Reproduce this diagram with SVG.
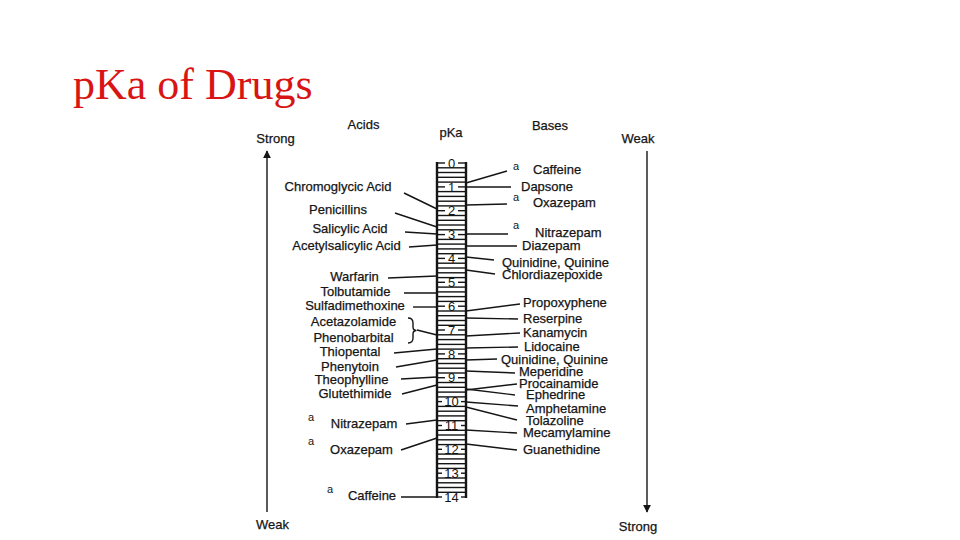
<svg xmlns="http://www.w3.org/2000/svg" width="960" height="540" viewBox="0 0 960 540">
<defs>
<style>
.t{font-family:"Liberation Sans",Arial,sans-serif;font-size:13px;fill:#151515;stroke:#151515;stroke-width:0.25}
.m{text-anchor:middle}
.sup{font-family:"Liberation Sans",Arial,sans-serif;font-size:11px;fill:#151515}
.num{font-family:"Liberation Sans",Arial,sans-serif;font-size:13px;fill:#151515;text-anchor:middle}
.c line,.c path{stroke:#151515;stroke-width:1.4;fill:none}
.col line{stroke:#151515;stroke-width:1.4}
.col .side{stroke-width:2.4}
.ax{stroke:#151515;stroke-width:1.4}
</style>
<marker id="ah" viewBox="0 0 10 10" refX="9" refY="5" markerWidth="8" markerHeight="8" markerUnits="userSpaceOnUse" orient="auto">
<path d="M0,0 L10,5 L0,10 z" fill="#151515"/>
</marker>
</defs>
<rect width="960" height="540" fill="#fff"/>
<text x="73" y="99" font-family="Liberation Serif, Times New Roman, serif" font-size="44" fill="#d81414">pKa of Drugs</text>

<g id="headers">
<text class="t m" x="363.5" y="129">Acids</text>
<text class="t m" x="451" y="137">pKa</text>
<text class="t m" x="550" y="130">Bases</text>
<text class="t m" x="275.5" y="143">Strong</text>
<text class="t m" x="272.5" y="529">Weak</text>
<text class="t m" x="638" y="143">Weak</text>
<text class="t m" x="638" y="531">Strong</text>
</g>

<g id="axes">
<line class="ax" x1="267" y1="512" x2="267" y2="151" marker-end="url(#ah)"/>
<line class="ax" x1="647" y1="151" x2="647" y2="512" marker-end="url(#ah)"/>
</g>

<g id="scale" class="col">
<line class="side" x1="437" y1="162" x2="437" y2="498"/>
<line class="side" x1="466" y1="162" x2="466" y2="498"/>
<g>
<line x1="437" x2="466" y1="167.8" y2="167.8"/><line x1="437" x2="466" y1="172.5" y2="172.5"/><line x1="437" x2="466" y1="177.3" y2="177.3"/><line x1="437" x2="466" y1="182.1" y2="182.1"/>
<line x1="437" x2="466" y1="191.6" y2="191.6"/><line x1="437" x2="466" y1="196.4" y2="196.4"/><line x1="437" x2="466" y1="201.2" y2="201.2"/><line x1="437" x2="466" y1="205.9" y2="205.9"/>
<line x1="437" x2="466" y1="215.5" y2="215.5"/><line x1="437" x2="466" y1="220.3" y2="220.3"/><line x1="437" x2="466" y1="225.0" y2="225.0"/><line x1="437" x2="466" y1="229.8" y2="229.8"/>
<line x1="437" x2="466" y1="239.4" y2="239.4"/><line x1="437" x2="466" y1="244.1" y2="244.1"/><line x1="437" x2="466" y1="248.9" y2="248.9"/><line x1="437" x2="466" y1="253.7" y2="253.7"/>
<line x1="437" x2="466" y1="263.2" y2="263.2"/><line x1="437" x2="466" y1="268.0" y2="268.0"/><line x1="437" x2="466" y1="272.8" y2="272.8"/><line x1="437" x2="466" y1="277.6" y2="277.6"/>
<line x1="437" x2="466" y1="287.1" y2="287.1"/><line x1="437" x2="466" y1="291.9" y2="291.9"/><line x1="437" x2="466" y1="296.6" y2="296.6"/><line x1="437" x2="466" y1="301.4" y2="301.4"/>
<line x1="437" x2="466" y1="311.0" y2="311.0"/><line x1="437" x2="466" y1="315.7" y2="315.7"/><line x1="437" x2="466" y1="320.5" y2="320.5"/><line x1="437" x2="466" y1="325.3" y2="325.3"/>
<line x1="437" x2="466" y1="334.8" y2="334.8"/><line x1="437" x2="466" y1="339.6" y2="339.6"/><line x1="437" x2="466" y1="344.4" y2="344.4"/><line x1="437" x2="466" y1="349.1" y2="349.1"/>
<line x1="437" x2="466" y1="358.7" y2="358.7"/><line x1="437" x2="466" y1="363.5" y2="363.5"/><line x1="437" x2="466" y1="368.2" y2="368.2"/><line x1="437" x2="466" y1="373.0" y2="373.0"/>
<line x1="437" x2="466" y1="382.5" y2="382.5"/><line x1="437" x2="466" y1="387.3" y2="387.3"/><line x1="437" x2="466" y1="392.1" y2="392.1"/><line x1="437" x2="466" y1="396.9" y2="396.9"/>
<line x1="437" x2="466" y1="406.4" y2="406.4"/><line x1="437" x2="466" y1="411.2" y2="411.2"/><line x1="437" x2="466" y1="415.9" y2="415.9"/><line x1="437" x2="466" y1="420.7" y2="420.7"/>
<line x1="437" x2="466" y1="430.3" y2="430.3"/><line x1="437" x2="466" y1="435.0" y2="435.0"/><line x1="437" x2="466" y1="439.8" y2="439.8"/><line x1="437" x2="466" y1="444.6" y2="444.6"/>
<line x1="437" x2="466" y1="454.1" y2="454.1"/><line x1="437" x2="466" y1="458.9" y2="458.9"/><line x1="437" x2="466" y1="463.7" y2="463.7"/><line x1="437" x2="466" y1="468.4" y2="468.4"/>
<line x1="437" x2="466" y1="478.0" y2="478.0"/><line x1="437" x2="466" y1="482.8" y2="482.8"/><line x1="437" x2="466" y1="487.5" y2="487.5"/><line x1="437" x2="466" y1="492.3" y2="492.3"/>
</g>
<g>
<line x1="436" x2="445" y1="163" y2="163"/><line x1="458" x2="467" y1="163" y2="163"/>
<line x1="437" x2="445" y1="186.9" y2="186.9"/><line x1="458" x2="466" y1="186.9" y2="186.9"/>
<line x1="437" x2="445" y1="210.7" y2="210.7"/><line x1="458" x2="466" y1="210.7" y2="210.7"/>
<line x1="437" x2="445" y1="234.6" y2="234.6"/><line x1="458" x2="466" y1="234.6" y2="234.6"/>
<line x1="437" x2="445" y1="258.4" y2="258.4"/><line x1="458" x2="466" y1="258.4" y2="258.4"/>
<line x1="437" x2="445" y1="282.3" y2="282.3"/><line x1="458" x2="466" y1="282.3" y2="282.3"/>
<line x1="437" x2="445" y1="306.2" y2="306.2"/><line x1="458" x2="466" y1="306.2" y2="306.2"/>
<line x1="437" x2="445" y1="330.0" y2="330.0"/><line x1="458" x2="466" y1="330.0" y2="330.0"/>
<line x1="437" x2="445" y1="353.9" y2="353.9"/><line x1="458" x2="466" y1="353.9" y2="353.9"/>
<line x1="437" x2="445" y1="377.7" y2="377.7"/><line x1="458" x2="466" y1="377.7" y2="377.7"/>
<line x1="437" x2="442" y1="401.6" y2="401.6"/><line x1="461" x2="466" y1="401.6" y2="401.6"/>
<line x1="437" x2="442" y1="425.5" y2="425.5"/><line x1="461" x2="466" y1="425.5" y2="425.5"/>
<line x1="437" x2="442" y1="449.3" y2="449.3"/><line x1="461" x2="466" y1="449.3" y2="449.3"/>
<line x1="437" x2="442" y1="473.2" y2="473.2"/><line x1="461" x2="466" y1="473.2" y2="473.2"/>
<line x1="436" x2="442" y1="497" y2="497"/><line x1="461" x2="467" y1="497" y2="497"/>
</g>
<g>
<text class="num" x="451.5" y="167.6">0</text>
<text class="num" x="451.5" y="191.5">1</text>
<text class="num" x="451.5" y="215.3">2</text>
<text class="num" x="451.5" y="239.2">3</text>
<text class="num" x="451.5" y="263">4</text>
<text class="num" x="451.5" y="286.9">5</text>
<text class="num" x="451.5" y="310.8">6</text>
<text class="num" x="451.5" y="334.6">7</text>
<text class="num" x="451.5" y="358.5">8</text>
<text class="num" x="451.5" y="382.3">9</text>
<text class="num" x="451.5" y="406.2">10</text>
<text class="num" x="451.5" y="430.1">11</text>
<text class="num" x="451.5" y="453.9">12</text>
<text class="num" x="451.5" y="477.8">13</text>
<text class="num" x="451.5" y="501.6">14</text>
</g>
</g>

<g id="connectors" class="c">
<line x1="404" y1="193" x2="437" y2="209"/>
<line x1="395" y1="213" x2="437" y2="227"/>
<line x1="405" y1="232" x2="437" y2="234"/>
<line x1="409" y1="247" x2="437" y2="245"/>
<line x1="388" y1="278" x2="437" y2="276"/>
<line x1="404" y1="293" x2="437" y2="293"/>
<line x1="413" y1="307" x2="437" y2="307"/>
<path d="M408,318 Q413,318 413,323 L413,327 Q413,330.5 416.5,330.5 Q413,330.5 413,334 L413,338 Q413,343 408,343"/>
<line x1="417" y1="330" x2="437" y2="335"/>
<line x1="394" y1="353" x2="437" y2="349"/>
<line x1="396" y1="367" x2="437" y2="360"/>
<line x1="401" y1="379" x2="437" y2="377"/>
<line x1="402" y1="394" x2="437" y2="385"/>
<line x1="406" y1="424" x2="437" y2="420"/>
<line x1="401" y1="450" x2="437" y2="438"/>
<line x1="401" y1="497" x2="437" y2="497"/>

<line x1="466" y1="183" x2="507" y2="171"/>
<line x1="466" y1="187" x2="511" y2="187"/>
<line x1="466" y1="205" x2="507" y2="204"/>
<line x1="466" y1="234" x2="508" y2="234"/>
<line x1="466" y1="246" x2="517" y2="246"/>
<line x1="466" y1="257" x2="494" y2="260"/>
<line x1="466" y1="270" x2="495" y2="274"/>
<line x1="466" y1="311" x2="520" y2="304"/>
<line x1="466" y1="318" x2="518" y2="319"/>
<line x1="466" y1="336" x2="520" y2="333"/>
<line x1="466" y1="348" x2="518" y2="347"/>
<line x1="466" y1="360" x2="497" y2="359"/>
<line x1="466" y1="371" x2="515" y2="373"/>
<line x1="466" y1="390" x2="517" y2="384"/>
<line x1="466" y1="389" x2="515" y2="395"/>
<line x1="466" y1="402" x2="518" y2="406"/>
<line x1="466" y1="407" x2="517" y2="420"/>
<line x1="466" y1="430" x2="517" y2="433"/>
<line x1="466" y1="444" x2="517" y2="450"/>
</g>

<g id="acids">
<g id="a-chromoglycic"><text class="t m" x="338" y="191">Chromoglycic Acid</text></g>
<g id="a-penicillins"><text class="t m" x="338" y="214">Penicillins</text></g>
<g id="a-salicylic"><text class="t m" x="350" y="233">Salicylic Acid</text></g>
<g id="a-acetylsalicylic"><text class="t m" x="346.5" y="250">Acetylsalicylic Acid</text></g>
<g id="a-warfarin"><text class="t m" x="354.5" y="281">Warfarin</text></g>
<g id="a-tolbutamide"><text class="t m" x="355.5" y="296">Tolbutamide</text></g>
<g id="a-sulfadimethoxine"><text class="t m" x="355" y="310">Sulfadimethoxine</text></g>
<g id="a-acetazolamide"><text class="t m" x="353.5" y="326">Acetazolamide</text></g>
<g id="a-phenobarbital"><text class="t m" x="353.5" y="342">Phenobarbital</text></g>
<g id="a-thiopental"><text class="t m" x="350" y="356">Thiopental</text></g>
<g id="a-phenytoin"><text class="t m" x="350" y="371">Phenytoin</text></g>
<g id="a-theophylline"><text class="t m" x="351.5" y="384">Theophylline</text></g>
<g id="a-glutethimide"><text class="t m" x="355" y="398">Glutethimide</text></g>
<g id="a-nitrazepam"><text class="sup" x="308" y="421">a</text><text class="t m" x="364" y="428">Nitrazepam</text></g>
<g id="a-oxazepam"><text class="sup" x="308" y="445">a</text><text class="t m" x="361.5" y="454">Oxazepam</text></g>
<g id="a-caffeine"><text class="sup" x="327" y="493">a</text><text class="t m" x="372" y="500">Caffeine</text></g>
</g>

<g id="bases">
<g id="b-caffeine"><text class="sup" x="513" y="170">a</text><text class="t" x="533" y="174">Caffeine</text></g>
<g id="b-dapsone"><text class="t" x="521" y="191">Dapsone</text></g>
<g id="b-oxazepam"><text class="sup" x="513" y="201">a</text><text class="t" x="533" y="207">Oxazepam</text></g>
<g id="b-nitrazepam"><text class="sup" x="513" y="229">a</text><text class="t" x="535" y="237">Nitrazepam</text></g>
<g id="b-diazepam"><text class="t" x="522" y="250">Diazepam</text></g>
<g id="b-quinidine1"><text class="t" x="502" y="267">Quinidine, Quinine</text></g>
<g id="b-chlordiazepoxide"><text class="t" x="502" y="279">Chlordiazepoxide</text></g>
<g id="b-propoxyphene"><text class="t" x="523" y="307">Propoxyphene</text></g>
<g id="b-reserpine"><text class="t" x="523" y="323">Reserpine</text></g>
<g id="b-kanamycin"><text class="t" x="523" y="337">Kanamycin</text></g>
<g id="b-lidocaine"><text class="t" x="524" y="351">Lidocaine</text></g>
<g id="b-quinidine2"><text class="t" x="501" y="364">Quinidine, Quinine</text></g>
<g id="b-meperidine"><text class="t" x="519" y="376">Meperidine</text></g>
<g id="b-procainamide"><text class="t" x="519" y="388">Procainamide</text></g>
<g id="b-ephedrine"><text class="t" x="526" y="399">Ephedrine</text></g>
<g id="b-amphetamine"><text class="t" x="526" y="413">Amphetamine</text></g>
<g id="b-tolazoline"><text class="t" x="526" y="425">Tolazoline</text></g>
<g id="b-mecamylamine"><text class="t" x="523" y="437">Mecamylamine</text></g>
<g id="b-guanethidine"><text class="t" x="523" y="454">Guanethidine</text></g>
</g>
</svg>
